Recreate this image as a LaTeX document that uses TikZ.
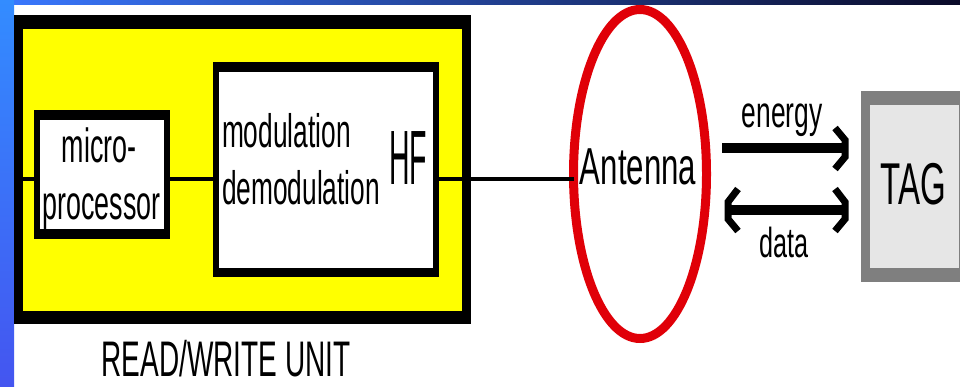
\documentclass[tikz,border=0pt]{standalone}
\usepackage{fontspec}
\setmainfont{Liberation Sans}
\newfontfamily\nar[FakeStretch=0.56]{Liberation Sans}
\newfontfamily\narA[FakeStretch=0.6]{Liberation Sans}
\newfontfamily\narH[FakeStretch=0.37]{Liberation Sans}
\usetikzlibrary{shapes.geometric}
\definecolor{antred}{RGB}{224,0,8}
\definecolor{tagborder}{RGB}{127,127,127}
\definecolor{tagfill}{RGB}{230,230,230}
\definecolor{unityellow}{RGB}{255,255,0}
\begin{document}
\begin{tikzpicture}[x=1pt,y=-1pt,
  txt/.style={inner sep=0pt,outer sep=0pt,anchor=base},
  blackbox/.style={fill=black,inner sep=0pt,outer sep=0pt},
  wire/.style={line width=4pt},
  shaft/.style={line width=10pt},
  head/.style={line width=7pt},
]
\useasboundingbox (0,0) rectangle (960,387);
\fill[white] (0,0) rectangle (960,387);
\shade[left color={rgb,255:red,58;green,120;blue,255}, middle color={rgb,255:red,30;green,80;blue,150}, right color={rgb,255:red,10;green,10;blue,40}] (0,0) rectangle (960,5);
\shade[top color={rgb,255:red,51;green,140;blue,255}, bottom color={rgb,255:red,68;green,85;blue,240}] (0,0) rectangle (14,387);

% read/write unit
\node[blackbox, minimum width=457pt, minimum height=309pt] (unit) at (242.5,169.5) {};
\fill[unityellow] ([xshift=9pt,yshift=-14pt]unit.north west) rectangle ([xshift=-9pt,yshift=13pt]unit.south east);

% microprocessor
\node[blackbox, minimum width=136pt, minimum height=129pt] (micro) at (102,174.5) {};
\fill[white] ([xshift=6pt,yshift=-10pt]micro.north west) rectangle ([xshift=-6pt,yshift=10pt]micro.south east);

% modulation box
\node[blackbox, minimum width=226pt, minimum height=215pt] (mod) at (326,169.5) {};
\fill[white] ([xshift=6pt,yshift=-10pt]mod.north west) rectangle ([xshift=-6pt,yshift=9pt]mod.south east);

% antenna
\node[ellipse, draw=antred, line width=9pt, minimum width=133pt, minimum height=329pt, inner sep=0pt, outer sep=0pt] (ant) at (640,174) {};

% tag
\node[fill=tagborder, inner sep=0pt, outer sep=0pt, minimum width=101pt, minimum height=191pt] (tag) at (911.5,186.5) {};
\fill[tagfill] ([xshift=9pt,yshift=-14pt]tag.north west) rectangle ([xshift=-3pt,yshift=14pt]tag.south east);

% wires
\coordinate (w0) at (23,179);
\draw[wire] (w0) -- (w0 -| micro.west);
\draw[wire] (w0 -| micro.east) -- (w0 -| mod.west);
\draw[wire] (w0 -| mod.east) -- (w0 -| ant.west);

% texts
\node[txt] (t1) at (99,163) {\nar\fontsize{48}{48}\selectfont micro-};
\node[txt] (t2) at (101.5,220) {\nar\fontsize{48}{48}\selectfont processor};
\node[txt,anchor=base west] (t3) at (222,148) {\nar\fontsize{47}{47}\selectfont modulation};
\node[txt,anchor=base west] (t4) at (222,205) {\nar\fontsize{47}{47}\selectfont demodulation};
\node[txt] (t5) at (408,185) {\narH\fontsize{77}{77}\selectfont HF};
\node[txt] (t6) at (638,185) {\narA\fontsize{52}{52}\selectfont Antenna};
\node[txt] (t7) at (782,128) {\narA\fontsize{44}{44}\selectfont energy};
\node[txt] (t8) at (784,257) {\narA\fontsize{42}{42}\selectfont data};
\node[txt] (t9) at (913,205) {\nar\fontsize{59}{59}\selectfont TAG};
\node[txt] (t10) at (226,376) {\nar\fontsize{50}{50}\selectfont READ/WRITE UNIT};

% arrows
\coordinate (e1) at (722,148);
\coordinate (e2) at (843,148);
\coordinate (d1) at (727,210);
\coordinate (d2) at (843,210);
\draw[shaft] (e1) -- (e2);
\draw[head] (835,128) -- (845,140) -- (845,157) -- (835,169);
\draw[shaft] (d1) -- (d2);
\draw[head] (835,189) -- (845,202) -- (845,219) -- (835,231);
\draw[head] (738,189) -- (728,202) -- (728,219) -- (738,231);
\end{tikzpicture}
\end{document}
